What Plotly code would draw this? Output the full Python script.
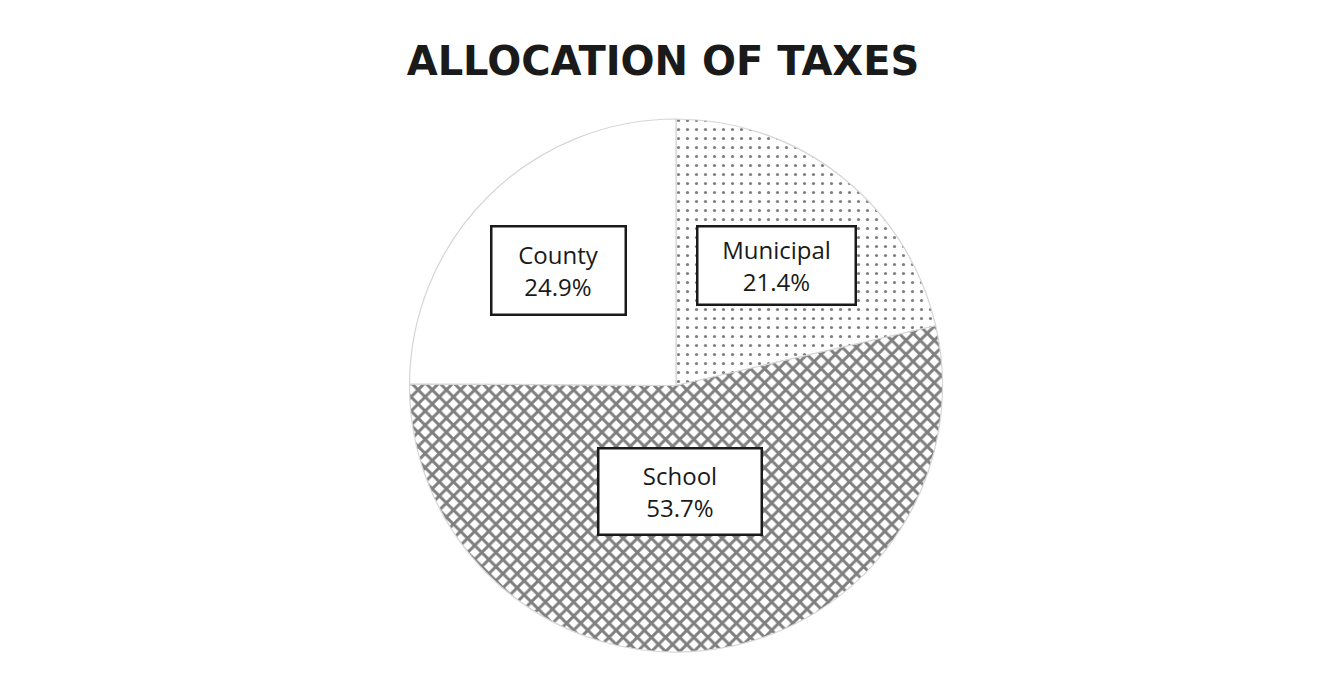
import math
import plotly.graph_objects as go

# ---- data ----
categories = ["Municipal", "School", "County"]
shares = [21.4, 53.7, 24.9]
title_text = "ALLOCATION OF TAXES"

# ---- style ----
patterns = [".", "x", ""]
label_radius = [0.585, 0.395, 0.615]   # fraction of pie radius for each label box
label_xshift = [3, -8, -2]
label_yshift = [-2, -1, -1]
box_w = [156, 161, 132]
box_h = [76, 84, 86]
W, H = 1338, 679
ML, MR, MT, MB = 0, 2, 111, 35

fig = go.Figure(go.Pie(
    labels=categories,
    values=shares,
    sort=False,
    direction="clockwise",
    rotation=0,
    textinfo="none",
    hoverinfo="label+percent",
    showlegend=False,
    marker=dict(
        colors=["white", "white", "white"],
        line=dict(color="#d6d6d6", width=1.2),
        pattern=dict(shape=patterns, fgcolor="#000000", bgcolor="white",
                     size=[9, 10, 8], solidity=[0.1, 0.5, 0.1], fillmode="overlay"),
    ),
))

plot_w = W - ML - MR
plot_h = H - MT - MB
R = min(plot_w, plot_h) / 2
total = sum(shares)
cum = 0
for name, v, rf, xs, ys, bw, bh in zip(categories, shares, label_radius,
                                       label_xshift, label_yshift, box_w, box_h):
    mid = (cum + v / 2) / total * 2 * math.pi
    cum += v
    dx = math.sin(mid) * R * rf
    dy = math.cos(mid) * R * rf
    fig.add_annotation(
        x=0.5 + dx / plot_w, y=0.5 + dy / plot_h, xref="paper", yref="paper",
        xanchor="center", yanchor="middle", xshift=xs, yshift=ys,
        text=f"{name}<br>{v:.1f}%", showarrow=False,
        font=dict(family="Open Sans, Noto Sans, sans-serif", size=24, color="#1a1a1a"),
        align="center", valign="middle", bgcolor="white",
        bordercolor="#1a1a1a", borderwidth=2.5, borderpad=0,
        width=bw, height=bh,
    )

fig.update_layout(
    width=W, height=H,
    margin=dict(l=ML, r=MR, t=MT, b=MB),
    paper_bgcolor="white", plot_bgcolor="white",
    title=dict(text=f"<b>{title_text}</b>", x=655 / W, xanchor="center",
               y=1 - 53 / H, yanchor="middle",
               font=dict(family="DejaVu Sans, sans-serif", size=40, color="#1a1a1a")),
)

fig.write_html("out.html")
